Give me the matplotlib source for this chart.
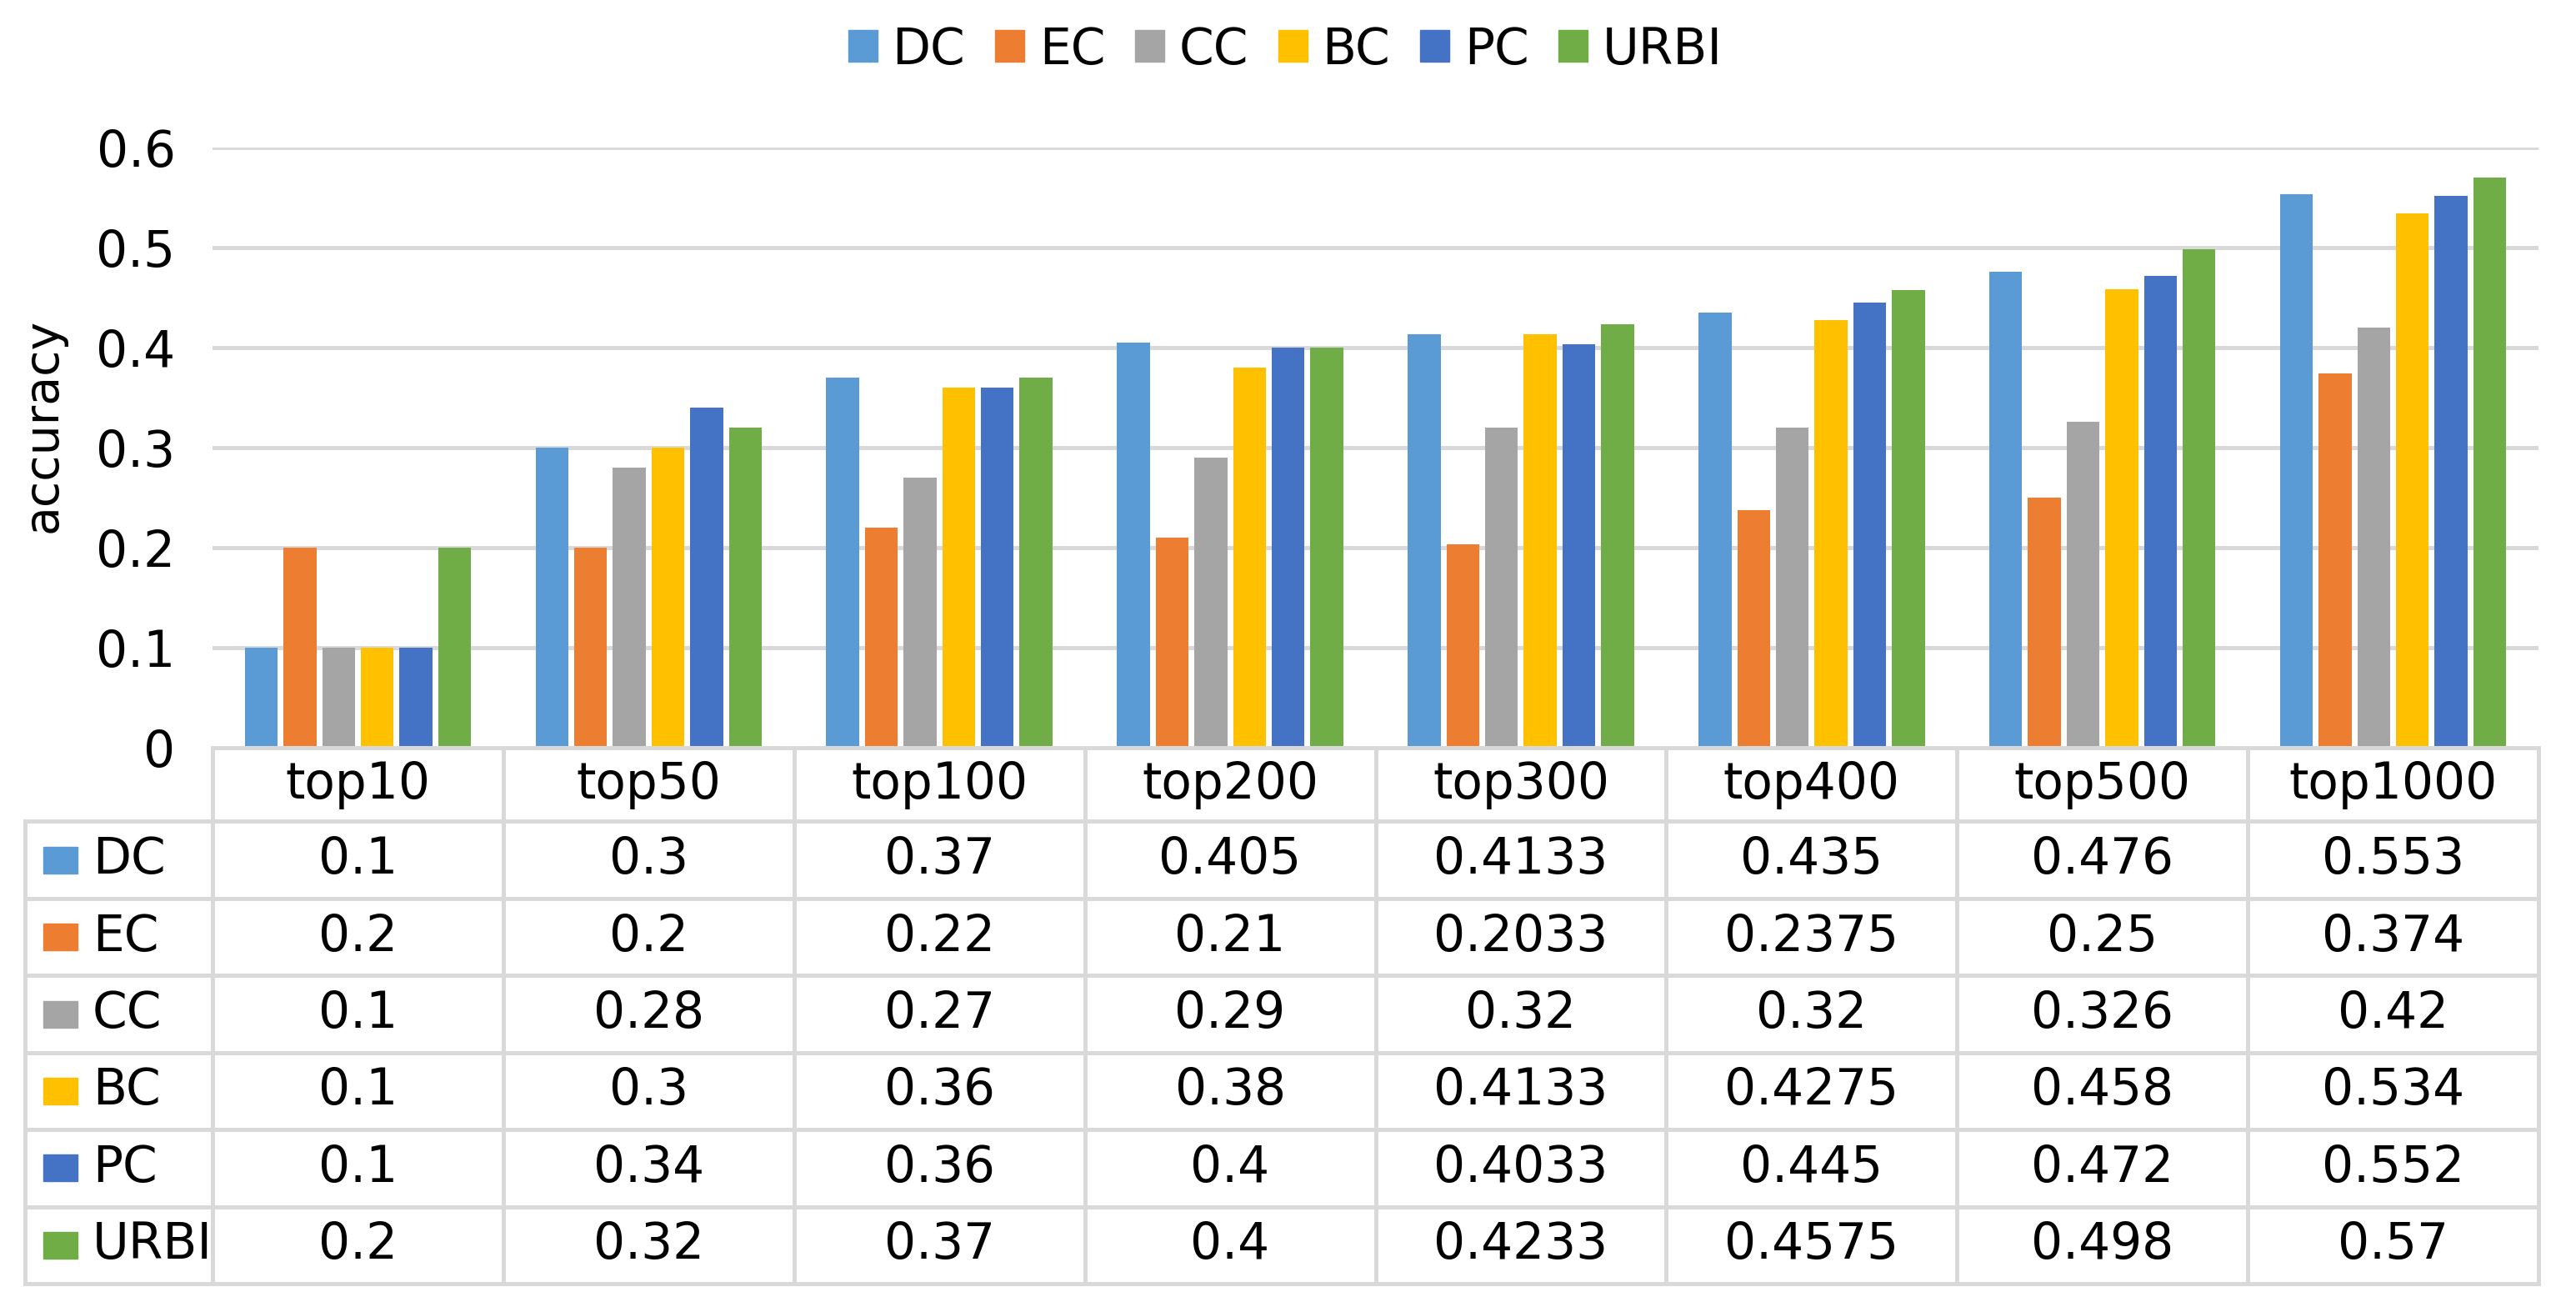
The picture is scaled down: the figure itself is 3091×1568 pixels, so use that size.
import matplotlib
matplotlib.use("Agg")
import matplotlib.pyplot as plt
from matplotlib.patches import Patch, Rectangle

categories = ["top10", "top50", "top100", "top200", "top300", "top400", "top500", "top1000"]
methods = ["DC", "EC", "CC", "BC", "PC", "URBI"]
dc = [0.1, 0.3, 0.37, 0.405, 0.4133, 0.435, 0.476, 0.553]
ec = [0.2, 0.2, 0.22, 0.21, 0.2033, 0.2375, 0.25, 0.374]
cc = [0.1, 0.28, 0.27, 0.29, 0.32, 0.32, 0.326, 0.42]
bc = [0.1, 0.3, 0.36, 0.38, 0.4133, 0.4275, 0.458, 0.534]
pc = [0.1, 0.34, 0.36, 0.4, 0.4033, 0.445, 0.472, 0.552]
urbi = [0.2, 0.32, 0.37, 0.4, 0.4233, 0.4575, 0.498, 0.57]
series = [dc, ec, cc, bc, pc, urbi]
colors = ["#5B9BD5", "#ED7D31", "#A5A5A5", "#FFC000", "#4472C4", "#70AD47"]

plt.rcParams['font.family'] = ['DejaVu Sans']
FS = 43
GRID = "#D9D9D9"
LW = 3.6

W, H = 3091, 1568
fig = plt.figure(figsize=(W / 100, H / 100), dpi=100)

# plot area in pixels
left, right, top, bottom = 255, 3046, 177, 897
ax = fig.add_axes([left / W, 1 - bottom / H, (right - left) / W, (bottom - top) / H])

n = len(methods)
step, width = 0.133, 0.113
for i, (vals, col) in enumerate(zip(series, colors)):
    xs = [k + (i - (n - 1) / 2) * step for k in range(len(categories))]
    ax.bar(xs, vals, width=width, color=col, zorder=3)

ax.set_xlim(-0.5, len(categories) - 0.5)
ax.set_ylim(0, 0.6)
ax.set_yticks([0, 0.1, 0.2, 0.3, 0.4, 0.5, 0.6])
ax.set_yticklabels(["0", "0.1", "0.2", "0.3", "0.4", "0.5", "0.6"], fontsize=FS)
ax.set_xticks([])
ax.tick_params(axis='y', length=0, pad=32)
for s in ax.spines.values():
    s.set_visible(False)
ax.yaxis.grid(True, color=GRID, linewidth=LW, zorder=0)
ax.set_axisbelow(True)

fig.text(52 / W, 1 - 510 / H, "accuracy", rotation=90, fontsize=41,
         ha='center', va='center')

# data table under the chart
tleft, tbottom = 30, 1540
ttop = bottom
unit = (right - left) / len(categories)
lab = (left - tleft) / unit
nrows = len(methods)
rowpx = (tbottom - 985.5) / nrows
hh = (985.5 - ttop) / rowpx
tax = fig.add_axes([tleft / W, 1 - tbottom / H, (right - tleft) / W, (tbottom - ttop) / H])
tax.set_xlim(-0.5 - lab, len(categories) - 0.5)
tax.set_ylim(hh + nrows, 0)
tax.axis('off')

x0, x1 = -0.5 - lab, len(categories) - 0.5
kw = dict(color=GRID, linewidth=LW, clip_on=False, solid_capstyle='projecting')
tax.plot([-0.5, x1], [0, 0], **kw)
for r in range(nrows + 1):
    tax.plot([x0, x1], [hh + r, hh + r], **kw)
for k in range(len(categories) + 1):
    tax.plot([k - 0.5, k - 0.5], [0, hh + nrows], **kw)
tax.plot([x0, x0], [hh, hh + nrows], **kw)

for k, c in enumerate(categories):
    tax.text(k, hh / 2, c, fontsize=FS, ha='center', va='center')

sq_w = 41 / unit
sq_h = 32 / rowpx
for r, (m, vals, col) in enumerate(zip(methods, series, colors)):
    yc = hh + r + 0.5
    tax.add_patch(Rectangle((x0 + 22 / unit, yc - sq_h / 2), sq_w, sq_h,
                            color=col, clip_on=False))
    tax.text(x0 + 81 / unit, yc, m, fontsize=FS, ha='left', va='center')
    for k, v in enumerate(vals):
        tax.text(k, yc, str(v), fontsize=FS, ha='center', va='center')

handles = [Patch(color=c) for c in colors]
fig.legend(handles, methods, loc='center', bbox_to_anchor=(0.499, 1 - 60 / H),
           ncol=n, frameon=False, fontsize=FS, handlelength=0.58,
           handleheight=0.6, handletextpad=0.3, columnspacing=0.6)

fig.savefig("out.png", dpi=100)
